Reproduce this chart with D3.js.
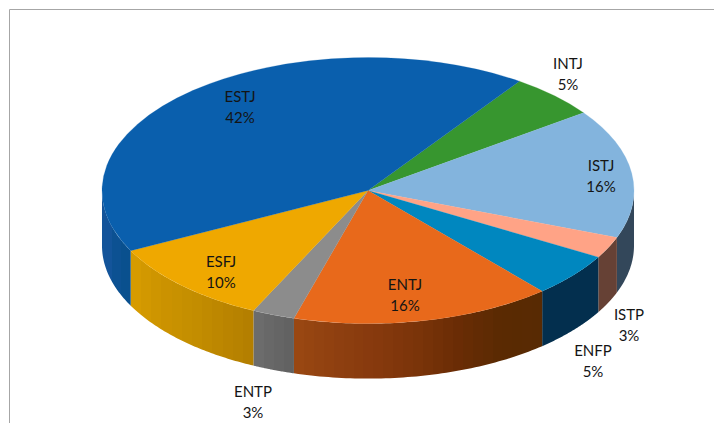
<!DOCTYPE html>
<html>
<head>
<meta charset="utf-8">
<script src="https://cdn.jsdelivr.net/npm/d3@7/dist/d3.min.js"></script>
<style>
html,body{margin:0;padding:0;background:#fff;}
svg{display:block;}
text{font-family:Lato,"Open Sans",sans-serif;font-size:15px;fill:#141414;text-anchor:middle;}
</style>
</head>
<body>
<div id="chart"></div>
<script>
// Data (slices run clockwise from INTJ)
const categories = ["INTJ","ISTJ","ISTP","ENFP","ENTJ","ENTP","ESFJ","ESTJ"];
const values = [5.4,15.7,2.6,5.3,15.85,2.6,10.45,42.1];

// Styles: wall stops run left to right across the screen
const topColors = ["#37962f","#83b4dd","#ffa386","#0087bf","#e8691b","#8c8c8c","#efa800","#0a5fad"];
const sideStops = [
  ["#2a7024"],
  ["#33475a","#33475a"],
  ["#664135","#664135"],
  ["#032f4e","#032f4e"],
  ["#9a4812","#8f4010","#86390d","#7a3409","#692c05","#5a2a02","#582a03"],
  ["#6e6e6e","#666666","#616161"],
  ["#d89d00","#cc9300","#c48e00","#bb8500","#b27e00"],
  ["#17559e","#0c5192","#07508c"]
];
// Layout
const W = 714, H = 423;
const cx = 368, cy = 190.6, rx = 266, ry = 133, depth = 55;
const startDeg = 34.7, bandWidth = 10;
const labelCenters = [[568,63],[601,165],[629,314],[593,350],[405,284],[253,391],[221,261],[240,96]];
const lineGap = 21;

const svg = d3.select("#chart").append("svg").attr("width",W).attr("height",H);
const defs = svg.append("defs");

// Frame
const framePath = d3.path();
framePath.moveTo(9.5,H); framePath.lineTo(9.5,9.5); framePath.lineTo(W,9.5);
svg.append("path").attr("d",framePath.toString()).attr("fill","none").attr("stroke","#a6a6a6").attr("stroke-width",1);

const start = startDeg*Math.PI/180;
const pie = d3.pie().sort(null).value(d=>d).startAngle(start).endAngle(start+2*Math.PI);
const slices = pie(values);

const px = a => cx + rx*Math.sin(a);
const py = a => cy - ry*Math.cos(a);
const line = d3.line();

// Wall of the cylinder: only the front half (90deg..270deg) is visible.
// Each wall is one path filled by a hard-stop gradient, which gives the stepped bands.
const walls = svg.append("g");
slices.forEach((s,i)=>{
  const a0 = Math.max(s.startAngle, Math.PI/2), a1 = Math.min(s.endAngle, 3*Math.PI/2);
  if (a1 <= a0) return;
  const xa = px(a0), xb = px(a1);
  const xLo = Math.min(xa,xb), xHi = Math.max(xa,xb);
  const stops = sideStops[i];
  const id = "wall"+i;
  const grad = defs.append("linearGradient").attr("id",id)
    .attr("gradientUnits","userSpaceOnUse")
    .attr("x1",xLo).attr("x2",xHi).attr("y1",0).attr("y2",0);
  const color = stops.length>1
    ? d3.scaleLinear().domain(d3.range(stops.length).map(k=>k/(stops.length-1))).range(stops).interpolate(d3.interpolateRgb)
    : ()=>stops[0];
  const nBands = Math.max(1,Math.round((xHi-xLo)/bandWidth));
  for (let b=0;b<nBands;b++){
    const c = color((b+0.5)/nBands);
    grad.append("stop").attr("offset",b/nBands).attr("stop-color",c);
    grad.append("stop").attr("offset",(b+1)/nBands).attr("stop-color",c);
  }
  const samples = d3.range(0,61).map(k=>a0+(a1-a0)*k/60);
  const upper = samples.map(a=>[px(a),py(a)]);
  const lower = samples.slice().reverse().map(a=>[px(a),py(a)+depth]);
  walls.append("path").attr("d",line(upper.concat(lower))+"Z").attr("fill",`url(#${id})`);
});

// Top face: a flat pie squashed into an ellipse
const arc = d3.arc().innerRadius(0).outerRadius(rx);
svg.append("g").attr("transform",`translate(${cx},${cy}) scale(1,${ry/rx})`)
  .selectAll("path").data(slices).join("path")
  .attr("d",arc)
  .attr("fill",(d,i)=>topColors[i])
  .attr("stroke",(d,i)=>topColors[i]).attr("stroke-width",0.3);

// Labels
const labels = svg.append("g");
slices.forEach((s,i)=>{
  const [x,y] = labelCenters[i];
  labels.append("text").attr("x",x).attr("y",y+5.5).text(categories[i]);
  labels.append("text").attr("x",x).attr("y",y+lineGap+5.5).text(d3.format(".0f")(s.value)+"%");
});
</script>
</body>
</html>
